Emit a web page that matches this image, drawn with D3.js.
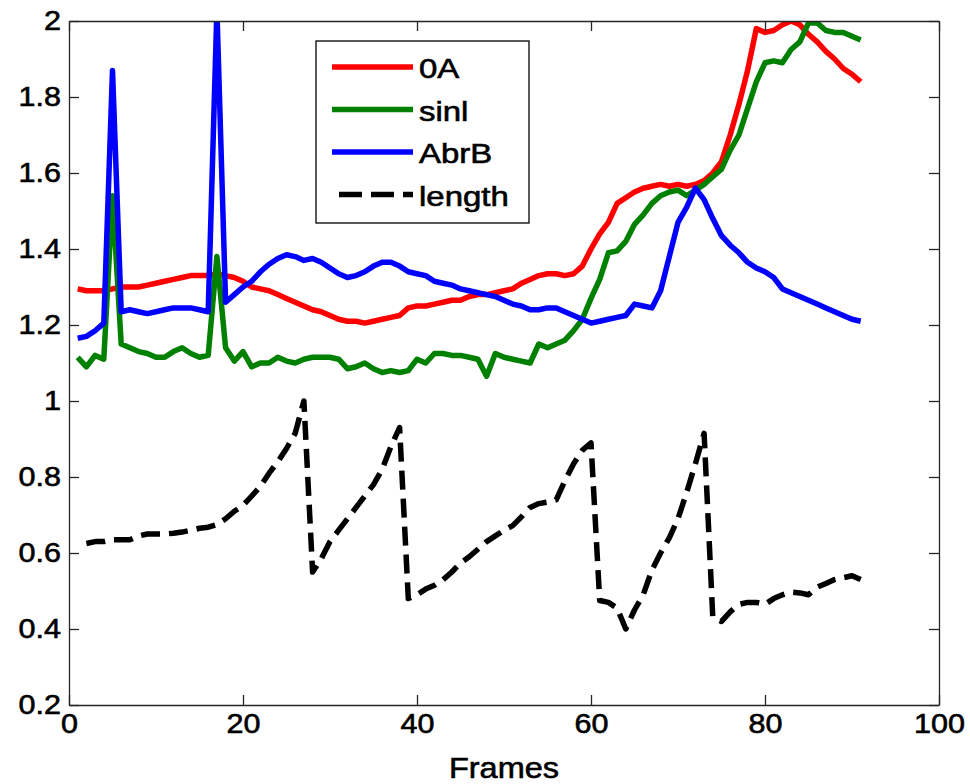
<!DOCTYPE html>
<html>
<head>
<meta charset="utf-8">
<script src="https://cdn.jsdelivr.net/npm/d3@7"></script>
<style>
body { margin: 0; background: #fff; }
text { font-family: "Liberation Sans", Arial, sans-serif; }
</style>
</head>
<body>
<svg width="970" height="784"></svg>
<script>
// frame numbers 1..91
var frames = [1,2,3,4,5,6,7,8,9,10,11,12,13,14,15,16,17,18,19,20,
	21,22,23,24,25,26,27,28,29,30,31,32,33,34,35,36,37,38,39,40,
	41,42,43,44,45,46,47,48,49,50,51,52,53,54,55,56,57,58,59,60,
	61,62,63,64,65,66,67,68,69,70,71,72,73,74,75,76,77,78,79,80,
	81,82,83,84,85,86,87,88,89,90,91];

var oA = [1.295,1.29,1.29,1.29,1.295,1.30,1.30,1.30,1.305,1.31,
	1.315,1.32,1.325,1.33,1.33,1.33,1.335,1.33,1.325,1.315,
	1.30,1.295,1.29,1.28,1.27,1.26,1.25,1.24,1.235,1.225,
	1.215,1.21,1.21,1.205,1.21,1.215,1.22,1.225,1.245,1.25,
	1.25,1.255,1.26,1.265,1.265,1.275,1.28,1.28,1.285,1.29,
	1.295,1.31,1.32,1.33,1.335,1.335,1.33,1.335,1.355,1.40,
	1.44,1.47,1.52,1.535,1.55,1.56,1.565,1.57,1.565,1.57,
	1.565,1.57,1.58,1.60,1.63,1.70,1.78,1.87,1.98,1.97,
	1.975,1.99,2.0,1.99,1.965,1.945,1.92,1.90,1.875,1.86,
	1.84];

var sinl = [1.115,1.09,1.12,1.11,1.54,1.15,1.14,1.13,1.125,1.115,
	1.115,1.13,1.14,1.125,1.115,1.12,1.38,1.14,1.105,1.13,
	1.09,1.10,1.10,1.115,1.105,1.10,1.11,1.115,1.115,1.115,
	1.11,1.085,1.09,1.10,1.085,1.075,1.08,1.075,1.08,1.11,
	1.10,1.125,1.125,1.12,1.12,1.115,1.11,1.065,1.125,1.115,
	1.11,1.105,1.10,1.15,1.14,1.15,1.16,1.185,1.215,1.27,
	1.32,1.39,1.395,1.42,1.465,1.49,1.52,1.54,1.55,1.555,
	1.54,1.555,1.57,1.59,1.61,1.66,1.70,1.77,1.84,1.89,
	1.895,1.89,1.925,1.945,1.995,1.995,1.975,1.97,1.97,1.96,
	1.95];

var abrB = [1.165,1.17,1.185,1.205,1.87,1.235,1.24,1.235,1.23,1.235,
	1.24,1.245,1.245,1.245,1.24,1.235,2.03,1.26,1.28,1.30,
	1.315,1.34,1.36,1.375,1.385,1.38,1.37,1.375,1.365,1.35,
	1.335,1.325,1.33,1.34,1.355,1.365,1.365,1.355,1.34,1.335,
	1.33,1.315,1.31,1.305,1.295,1.29,1.285,1.28,1.275,1.265,
	1.255,1.25,1.24,1.24,1.245,1.245,1.235,1.225,1.215,1.205,
	1.21,1.215,1.22,1.225,1.255,1.25,1.245,1.29,1.38,1.47,
	1.51,1.56,1.53,1.48,1.435,1.41,1.39,1.365,1.35,1.34,
	1.325,1.295,1.285,1.275,1.265,1.255,1.245,1.235,1.225,1.215,
	1.21];

// length curve starts at frame 2
var lengthVals = [0.625,0.63,0.63,0.635,0.635,0.635,0.645,0.65,0.65,
	0.65,0.652,0.655,0.66,0.665,0.668,0.675,0.69,0.71,0.725,
	0.75,0.775,0.81,0.84,0.875,0.915,1.0,0.55,0.585,0.63,
	0.66,0.69,0.72,0.75,0.78,0.82,0.88,0.93,0.48,0.49,
	0.505,0.515,0.53,0.55,0.574,0.59,0.61,0.63,0.645,0.66,
	0.672,0.695,0.72,0.73,0.734,0.74,0.79,0.835,0.87,0.89,
	0.475,0.47,0.455,0.40,0.45,0.49,0.555,0.60,0.64,0.69,
	0.76,0.835,0.915,0.43,0.42,0.445,0.465,0.47,0.47,0.465,
	0.48,0.49,0.497,0.495,0.49,0.51,0.52,0.53,0.535,0.54,
	0.53];
var lengthFrames = frames.slice(1);

var seriesNames = ["0A", "sinl", "AbrB", "length"];
var seriesColors = ["#ff0000", "#008000", "#0000ff", "#000000"];

var xTicks = [0, 20, 40, 60, 80, 100];
var yTicks = [0.2, 0.4, 0.6, 0.8, 1, 1.2, 1.4, 1.6, 1.8, 2];
var yTickLabels = ["0.2", "0.4", "0.6", "0.8", "1", "1.2", "1.4", "1.6", "1.8", "2"];

var svg = d3.select("svg"),
	pLeft = 69, pRight = 939, pTop = 21, pBottom = 705;

var x = d3.scaleLinear().domain([0, 100]).range([pLeft, pRight]);
var y = d3.scaleLinear().domain([0.2, 2]).range([pBottom, pTop]);

svg.append("defs").append("clipPath").attr("id", "plot")
	.append("rect").attr("x", pLeft).attr("y", pTop)
	.attr("width", pRight - pLeft).attr("height", pBottom - pTop);

// the original text is a bit wider than Arial, stretch it
function stretch(sel, k) {
	sel.each(function() {
		var len = this.getComputedTextLength();
		d3.select(this).attr("textLength", len * k).attr("lengthAdjust", "spacingAndGlyphs");
	});
}

// regular weight, thickened slightly like the blurry original
function heavy(sel) {
	sel.attr("font-weight", "normal").attr("fill", "#000")
		.attr("stroke", "#000").attr("stroke-width", 0.6);
}

var lines = svg.append("g").attr("clip-path", "url(#plot)");

var data = [
	{name: seriesNames[0], xs: frames, ys: oA},
	{name: seriesNames[1], xs: frames, ys: sinl},
	{name: seriesNames[2], xs: frames, ys: abrB},
	{name: seriesNames[3], xs: lengthFrames, ys: lengthVals}
];

var line = d3.line()
	.x(function(d) { return x(d[0]); })
	.y(function(d) { return y(d[1]); });

data.forEach(function(s, i) {
	var pts = s.xs.map(function(f, j) { return [f, s.ys[j]]; });
	lines.append("path")
		.attr("d", line(pts))
		.attr("fill", "none")
		.attr("stroke", seriesColors[i])
		.attr("stroke-width", 5.5)
		.attr("stroke-linejoin", "round")
		.attr("stroke-dasharray", i == 3 ? "19,9" : null);
});

// axes with inward ticks
function styleAxis(g) {
	g.selectAll("path, line").attr("stroke", "#262626").attr("stroke-width", 1.3);
	g.selectAll("text").attr("font-size", 27)
		.attr("font-family", "Liberation Sans, Arial, sans-serif").call(heavy);
}

var gx = svg.append("g").attr("transform", "translate(0," + pBottom + ")")
	.call(d3.axisBottom(x).tickValues(xTicks).tickSizeInner(-10).tickSizeOuter(0).tickPadding(23))
	.call(styleAxis);
gx.selectAll("text").attr("dy", "0.2em");

svg.append("g").attr("transform", "translate(0," + pTop + ")")
	.call(d3.axisTop(x).tickValues(xTicks).tickSizeInner(-10).tickSizeOuter(0).tickFormat(""))
	.call(styleAxis);

var gy = svg.append("g").attr("transform", "translate(" + pLeft + ",0)")
	.call(d3.axisLeft(y).tickValues(yTicks).tickSizeInner(-10).tickSizeOuter(0).tickPadding(8)
		.tickFormat(function(d, i) { return yTickLabels[i]; }))
	.call(styleAxis);

svg.append("g").attr("transform", "translate(" + pRight + ",0)")
	.call(d3.axisRight(y).tickValues(yTicks).tickSizeInner(-10).tickSizeOuter(0).tickFormat(""))
	.call(styleAxis);

stretch(gx.selectAll("text"), 1.13);
stretch(gy.selectAll("text"), 1.13);

var xlab = svg.append("text")
	.attr("x", (pLeft + pRight) / 2).attr("y", 778)
	.attr("text-anchor", "middle")
	.attr("font-size", 29)
	.text("Frames")
	.call(heavy);
stretch(xlab, 1.12);

// legend
var legend = svg.append("g");
legend.append("rect")
	.attr("x", 316).attr("y", 41).attr("width", 213).attr("height", 182)
	.attr("fill", "#fff").attr("stroke", "#000").attr("stroke-width", 1.3);

seriesNames.forEach(function(name, i) {
	var ly = 67 + i * 42.5;
	legend.append("line")
		.attr("x1", i == 3 ? 339 : 332).attr("x2", 413)
		.attr("y1", ly).attr("y2", ly)
		.attr("stroke", seriesColors[i]).attr("stroke-width", 5.5)
		.attr("stroke-dasharray", i == 3 ? "23,9" : null);
	var t = legend.append("text")
		.attr("x", 419).attr("y", ly + 11)
		.attr("font-size", 27)
		.text(name)
		.call(heavy);
	stretch(t, 1.22);
});
</script>
</body>
</html>
